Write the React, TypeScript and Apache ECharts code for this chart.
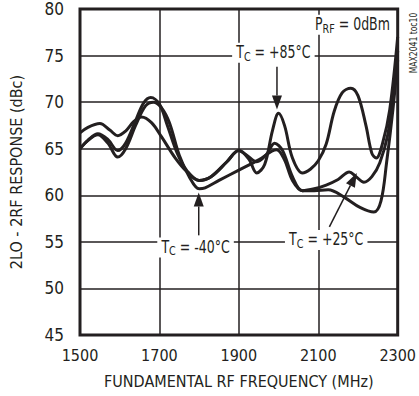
import React, { useEffect, useRef } from "react";
import * as echarts from "echarts";

const xTicks = [1500, 1700, 1900, 2100, 2300];
const yTicks = [45, 50, 55, 60, 65, 70, 75, 80];

// T_C = -40°C
const freqN40 = [1500, 1520, 1545, 1570, 1595, 1615, 1640, 1665, 1685, 1705, 1725, 1750, 1775, 1800, 1815, 1850, 1900, 1950, 1995, 2015, 2035, 2060, 2090, 2125, 2165, 2205, 2240, 2258, 2272, 2288, 2300];
const respN40 = [65.0, 65.9, 66.5, 65.6, 64.1, 65.0, 67.5, 69.6, 70.0, 69.4, 67.8, 64.3, 62.0, 60.7, 60.8, 61.6, 62.7, 63.8, 64.9, 63.8, 61.6, 60.5, 60.5, 60.6, 59.8, 58.7, 58.2, 59.4, 63.5, 69.2, 74.5];

// T_C = +25°C
const freqP25 = [1500, 1520, 1550, 1575, 1595, 1615, 1635, 1655, 1680, 1705, 1740, 1770, 1800, 1830, 1870, 1900, 1920, 1945, 1970, 1990, 2010, 2035, 2060, 2090, 2120, 2150, 2178, 2195, 2215, 2235, 2255, 2275, 2290, 2300];
const respP25 = [66.7, 67.3, 67.7, 67.0, 66.4, 66.9, 67.9, 68.4, 67.8, 66.3, 64.0, 62.5, 61.6, 62.0, 63.6, 64.8, 64.3, 63.6, 64.4, 65.6, 64.8, 62.0, 60.5, 60.7, 61.1, 61.7, 62.5, 62.0, 61.4, 62.0, 63.5, 66.5, 71.0, 75.5];

// T_C = +85°C
const freqP85 = [1500, 1520, 1545, 1570, 1595, 1615, 1640, 1660, 1678, 1700, 1720, 1745, 1770, 1800, 1830, 1870, 1900, 1925, 1945, 1965, 1985, 2000, 2015, 2035, 2060, 2080, 2100, 2120, 2140, 2160, 2182, 2200, 2220, 2235, 2246, 2262, 2280, 2300];
const respP85 = [65.0, 65.9, 66.6, 66.0, 64.8, 65.6, 68.0, 69.9, 70.5, 69.8, 67.5, 64.5, 62.6, 61.6, 62.0, 63.6, 64.8, 63.9, 62.4, 63.3, 67.0, 68.8, 67.5, 64.0, 62.4, 62.8, 63.7, 65.5, 69.0, 71.0, 71.5, 70.7, 67.5, 64.5, 64.0, 65.6, 69.2, 77.0];

const INK = "#231f20";
const FONT = "'Liberation Sans Narrow', 'DejaVu Sans Condensed', 'Roboto Condensed', Arial, sans-serif";

export default function App() {
  const ref = useRef<HTMLDivElement>(null);
  useEffect(() => {
    const chart = echarts.init(ref.current!, null, { renderer: "svg" });
    const mk = (name: string, f: number[], v: number[]) => ({
      name,
      type: "line",
      data: f.map((x, i) => [x, v[i]]),
      symbol: "none",
      smooth: 0.35,
      lineStyle: { color: INK, width: 3 },
      z: 5,
    });
    chart.setOption({
      animation: false,
      backgroundColor: "#fff",
      textStyle: { fontFamily: FONT },
      grid: { left: 79, top: 9, width: 326, height: 326, show: true, borderColor: INK, borderWidth: 3, z: 10 },
      xAxis: {
        type: "value",
        min: xTicks[0],
        max: xTicks[xTicks.length - 1],
        interval: 200,
        name: "FUNDAMENTAL RF FREQUENCY (MHz)",
        nameLocation: "middle",
        nameGap: 38,
        nameTextStyle: { fontSize: 16, color: INK, fontFamily: FONT },
        axisLine: { show: false },
        axisTick: { show: false },
        axisLabel: { fontSize: 16, color: INK, margin: 12, fontFamily: FONT, formatter: (v: number) => String(v) },
        splitLine: { show: true, lineStyle: { color: INK, width: 1.5 } },
      },
      yAxis: {
        type: "value",
        min: yTicks[0],
        max: yTicks[yTicks.length - 1],
        interval: 5,
        name: "2LO - 2RF RESPONSE (dBc)",
        nameLocation: "middle",
        nameGap: 56,
        nameTextStyle: { fontSize: 16, color: INK, fontFamily: FONT },
        axisLine: { show: false },
        axisTick: { show: false },
        axisLabel: { fontSize: 17, color: INK, margin: 16, fontFamily: FONT },
        splitLine: { show: true, lineStyle: { color: INK, width: 1.5 } },
      },
      series: [mk("-40", freqN40, respN40), mk("+25", freqP25, respP25), mk("+85", freqP85, respP85)],
    });

    const px = (x: number, y: number) => chart.convertToPixel({ gridIndex: 0 }, [x, y]) as number[];
    const arrow = (a: number[], b: number[], head = 14, w = 5) => {
      const dx = b[0] - a[0], dy = b[1] - a[1];
      const L = Math.hypot(dx, dy);
      const ux = dx / L, uy = dy / L;
      const bx = b[0] - ux * head, by = b[1] - uy * head;
      const nx = -uy, ny = ux;
      return [
        { type: "line", z: 20, shape: { x1: a[0], y1: a[1], x2: bx, y2: by }, style: { stroke: INK, lineWidth: 1.5 } },
        { type: "polygon", z: 20, shape: { points: [[b[0], b[1]], [bx + nx * w, by + ny * w], [bx - nx * w, by - ny * w]] }, style: { fill: INK } },
      ];
    };
    const rich = { m: { fontSize: 17, fontFamily: FONT, color: INK }, s: { fontSize: 13, fontFamily: FONT, color: INK, padding: [7, 0, 0, 0] } };
    const label = (p: number[], text: string) => ({
      type: "text",
      z: 20,
      x: p[0],
      y: p[1],
      scaleX: 0.82,
      style: { text, rich, align: "center", verticalAlign: "middle", backgroundColor: "#fff", padding: [0, 5], fill: INK, font: `17px ${FONT}` },
    });
    const graphic: any[] = [
      label(px(1987, 75.3), "{m|T}{s|C}{m| = +85°C}"),
      ...arrow(px(1996, 73.8), px(1996, 69.2)),
      label(px(1791, 54.4), "{m|T}{s|C}{m| = -40°C}"),
      ...arrow(px(1799, 55.7), px(1799, 60.3)),
      label(px(2120, 55.2), "{m|T}{s|C}{m| = +25°C}"),
      ...arrow(px(2128, 56.6), px(2197, 62.4)),
      label(px(2186, 78.3), "{m|P}{s|RF}{m| = 0dBm}"),
      {
        type: "text",
        z: 20,
        x: 413,
        y: 43,
        rotation: Math.PI / 2,
        scaleX: 0.85,
        style: { text: "MAX2041 toc10", align: "center", verticalAlign: "middle", fill: INK, font: `10px ${FONT}` },
      },
    ];
    chart.setOption({ graphic });
    return () => chart.dispose();
  }, []);
  return <div ref={ref} style={{ position: "absolute", left: 0, top: 0, width: 419, height: 396 }} />;
}
